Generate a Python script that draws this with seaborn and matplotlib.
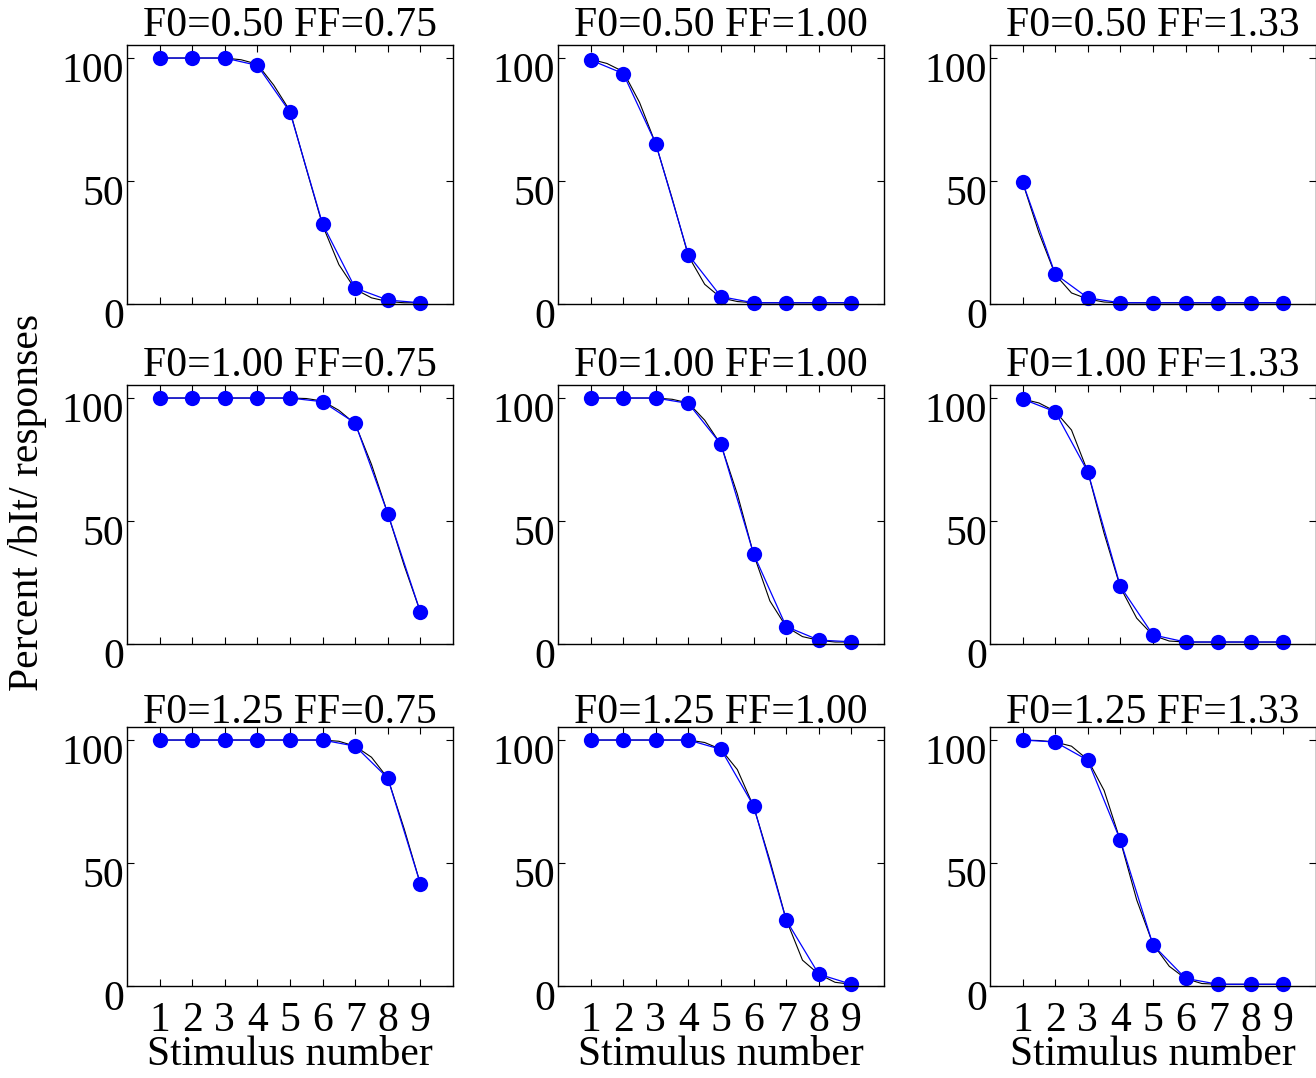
import numpy as np
import pandas as pd
import matplotlib
matplotlib.use("Agg")
import matplotlib.pyplot as plt
import matplotlib.transforms as mtransforms
import seaborn as sns

# ---- data -------------------------------------------------------------
stimulus = [1, 2, 3, 4, 5, 6, 7, 8, 9]
fine_x = [1, 1.5, 2, 2.5, 3, 3.5, 4, 4.5, 5, 5.5, 6, 6.5, 7, 7.5, 8, 8.5, 9]

f0_levels = ["0.50", "1.00", "1.25"]
ff_levels = ["0.75", "1.00", "1.33"]

# observed percent /bIt/ responses (blue dots), row = F0, col = FF
obs_f050_ff075 = [100, 100, 100, 97, 78, 32.5, 6.5, 1.6, 0.5]
obs_f050_ff100 = [99.2, 93.7, 65.2, 20, 3, 0.5, 0.5, 0.5, 0.5]
obs_f050_ff133 = [49.5, 12.2, 2.5, 0.5, 0.5, 0.5, 0.5, 0.5, 0.5]
obs_f100_ff075 = [100, 100, 100, 100, 100, 98.5, 89.8, 53, 13]
obs_f100_ff100 = [100, 100, 100, 97.8, 81.2, 36.6, 7.1, 1.6, 0.9]
obs_f100_ff133 = [99.6, 94.4, 70, 23.4, 3.7, 0.8, 0.8, 0.8, 0.8]
obs_f125_ff075 = [100, 100, 100, 100, 100, 100, 97.5, 84.5, 41.5]
obs_f125_ff100 = [100, 100, 100, 100, 96.2, 73.2, 26.8, 4.8, 0.7]
obs_f125_ff133 = [100, 99.2, 91.8, 59.2, 16.7, 3.1, 0.7, 0.7, 0.7]

# model curve (thin black line), read at half-step positions
fit_f050_ff075 = [100, 100, 100, 100, 100, 99.3, 97.5, 89, 78.5, 55, 32, 16, 6, 2.5, 1, 0.5, 0.5]
fit_f050_ff100 = [99.5, 97.8, 94.5, 82, 65, 43, 19.5, 8, 2.5, 1, 0.5, 0.5, 0.5, 0.5, 0.5, 0.5, 0.5]
fit_f050_ff133 = [49.5, 29, 12, 4.5, 2, 0.8, 0.5, 0.5, 0.5, 0.5, 0.5, 0.5, 0.5, 0.5, 0.5, 0.5, 0.5]
fit_f100_ff075 = [100, 100, 100, 100, 100, 100, 100, 100, 100, 99.8, 98.8, 95, 89.5, 73, 53, 32, 13]
fit_f100_ff100 = [100, 100, 100, 100, 100, 99.5, 98, 91, 81, 61, 36.5, 17.5, 7, 3, 1.5, 0.8, 0.8]
fit_f100_ff133 = [99.6, 98, 94.6, 87, 70, 45, 23, 10.5, 3.5, 1.2, 0.8, 0.8, 0.8, 0.8, 0.8, 0.8, 0.8]
fit_f125_ff075 = [100, 100, 100, 100, 100, 100, 100, 100, 100, 100, 100, 99.5, 97.5, 93, 84.5, 64, 41.5]
fit_f125_ff100 = [100, 100, 100, 100, 100, 100, 100, 99, 96.2, 88, 73, 51, 27, 10.5, 4.8, 1.5, 0.7]
fit_f125_ff133 = [100, 99.8, 99.2, 97.5, 92, 79.5, 59, 35, 17, 8, 3, 1, 0.7, 0.7, 0.7, 0.7, 0.7]

observed = [
    [obs_f050_ff075, obs_f050_ff100, obs_f050_ff133],
    [obs_f100_ff075, obs_f100_ff100, obs_f100_ff133],
    [obs_f125_ff075, obs_f125_ff100, obs_f125_ff133],
]
fitted = [
    [fit_f050_ff075, fit_f050_ff100, fit_f050_ff133],
    [fit_f100_ff075, fit_f100_ff100, fit_f100_ff133],
    [fit_f125_ff075, fit_f125_ff100, fit_f125_ff133],
]

y_ticks = [0, 50, 100]
x_tick_labels = ["1", "2", "3", "4", "5", "6", "7", "8", "9"]

# ---- style ------------------------------------------------------------
sns.set_style("ticks")
plt.rcParams["font.family"] = ["Liberation Serif", "DejaVu Serif"]
plt.rcParams["axes.linewidth"] = 1.0
plt.rcParams["axes.edgecolor"] = "black"
plt.rcParams["text.color"] = "black"
plt.rcParams["axes.labelcolor"] = "black"
plt.rcParams["xtick.color"] = "black"
plt.rcParams["ytick.color"] = "black"

W, H = 1316, 1078
fig = plt.figure(figsize=(W / 100, H / 100), dpi=100)

col_left = [127, 558, 990]
row_top = [45, 385, 727]
ax_w, ax_h = 326, 259
FS = 30

label_shift = mtransforms.ScaledTranslation(0, -0.09, fig.dpi_scale_trans)

for r in range(3):
    for c in range(3):
        rect = [col_left[c] / W, 1 - (row_top[r] + ax_h) / H, ax_w / W, ax_h / H]
        ax = fig.add_axes(rect)
        sns.lineplot(x=fine_x, y=fitted[r][c], ax=ax, color="black",
                     linewidth=0.8, clip_on=False, sort=False)
        sns.lineplot(x=stimulus, y=observed[r][c], ax=ax, color="blue",
                     linewidth=0.9, marker="o", markersize=11,
                     markeredgewidth=0, clip_on=False, sort=False)
        ax.set_xlim(0, 10)
        ax.set_ylim(0, 105.3)
        ax.set_xticks(stimulus)
        ax.set_yticks(y_ticks)
        ax.set_yticklabels([str(v) for v in y_ticks])
        ax.tick_params(direction="in", top=True, right=True, length=5,
                       width=0.8, labelsize=FS, pad=2, colors="black")
        ax.tick_params(axis="x", pad=11)
        if r == 2:
            ax.set_xticklabels(x_tick_labels)
            ax.set_xlabel("Stimulus number", fontsize=FS, labelpad=-3,
                          color="black")
        else:
            ax.set_xticklabels([])
        ax.set_ylabel("")
        ax.set_title(f"F0={f0_levels[r]} FF={ff_levels[c]}", fontsize=FS,
                     pad=3, color="black")
        for lab in ax.get_yticklabels():
            lab.set_transform(lab.get_transform() + label_shift)
        for sp in ax.spines.values():
            sp.set_visible(True)
            sp.set_color("black")

fig.text(28 / W, 1 - 502 / H, "Percent /bIt/ responses", rotation=90,
         fontsize=FS, ha="center", va="center", color="black")

fig.savefig("out.png", dpi=100)
